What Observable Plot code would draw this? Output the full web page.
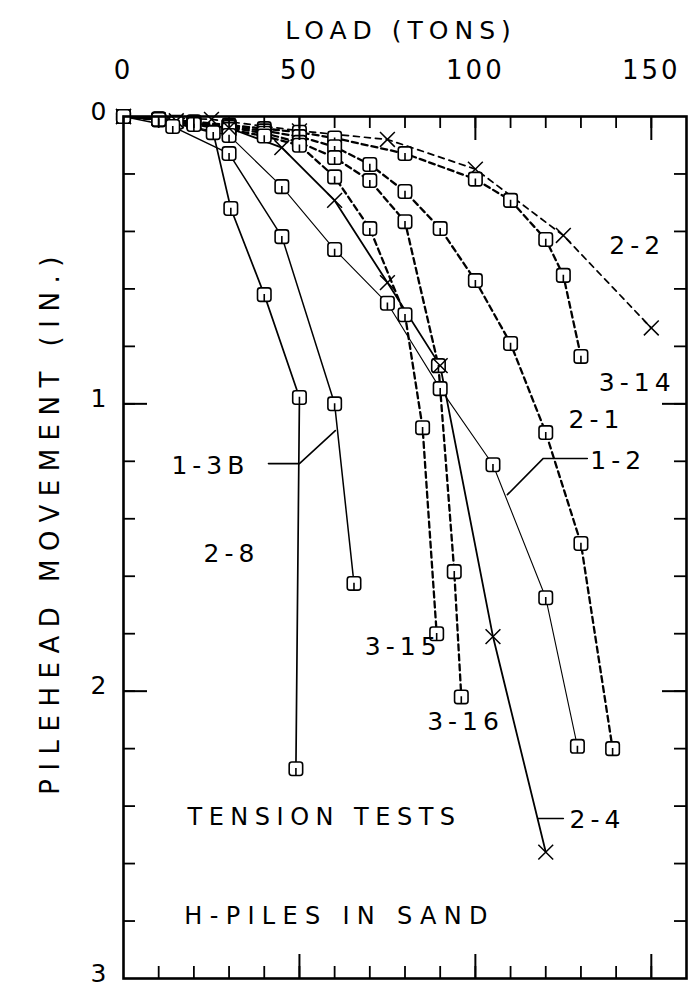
<!DOCTYPE html>
<html><head><meta charset="utf-8">
<script src="https://cdn.jsdelivr.net/npm/d3@7"></script>
<script src="https://cdn.jsdelivr.net/npm/@observablehq/plot@0.6"></script>
<style>
body{margin:0;background:#fff}
#chart svg text{letter-spacing:5px}
</style>
</head><body><div id="chart"></div>
<script>
// ---- data (load in tons, pilehead movement in inches) ----
const load_2_2 = [0, 25, 50, 75, 100, 125, 150];
const move_2_2 = [0, 0.01, 0.05, 0.08, 0.183, 0.414, 0.736];

const load_3_14 = [0, 10, 20, 30, 40, 50, 60, 80, 100, 110, 120, 125, 130];
const move_3_14 = [0, 0.008, 0.018, 0.03, 0.042, 0.055, 0.075, 0.129, 0.218, 0.292, 0.428, 0.553, 0.835];

const load_2_1 = [0, 10, 20, 30, 40, 50, 60, 70, 80, 90, 100, 110, 120, 130, 139];
const move_2_1 = [0, 0.01, 0.022, 0.035, 0.05, 0.07, 0.105, 0.167, 0.261, 0.39, 0.571, 0.79, 1.10, 1.486, 2.2];

const load_3_16 = [0, 10, 20, 30, 40, 50, 60, 70, 80, 89.5, 94, 96];
const move_3_16 = [0, 0.01, 0.024, 0.038, 0.058, 0.09, 0.143, 0.223, 0.366, 0.867, 1.584, 2.02];

const load_3_15 = [0, 10, 20, 30, 40, 50, 60, 70, 80, 85, 89];
const move_3_15 = [0, 0.012, 0.028, 0.045, 0.068, 0.1, 0.21, 0.39, 0.69, 1.083, 1.80];

const load_1_2 = [0, 15, 30, 45, 60, 75, 90, 105, 120, 129];
const move_1_2 = [0, 0.02, 0.066, 0.244, 0.463, 0.65, 0.947, 1.212, 1.675, 2.192];

const load_2_4 = [0, 15, 30, 45, 60, 75, 90, 105, 120];
const move_2_4 = [0, 0.015, 0.04, 0.108, 0.292, 0.578, 0.867, 1.81, 2.56];

const load_1_3B = [0, 14, 30, 45, 60, 65.5];
const move_1_3B = [0, 0.035, 0.129, 0.418, 1.0, 1.625];

const load_2_8 = [0, 10, 25.5, 30.5, 40, 50, 49];
const move_2_8 = [0, 0.01, 0.056, 0.32, 0.62, 0.978, 2.27];

// axis ticks
const xMajor = [0, 50, 100, 150];
const xMajorTicks = [50, 100, 150];
const xMinor = d3.range(10, 160, 10);
const yMajor = [0, 1, 2, 3];
const yMajorTicks = [1, 2];
const yMinor = d3.range(0.2, 3, 0.2);

// curve labels
const labelText = ["2-2", "3-14", "2-1", "1-2", "1-3B", "2-8", "3-15", "3-16", "2-4"];
const labelLoad = [146, 146, 134.4, 140.6, 24.7, 30.7, 79.5, 97.2, 134.7];
const labelMove = [0.452, 0.926, 1.058, 1.20, 1.218, 1.521, 1.845, 2.109, 2.45];

// leader lines for labels
const leader13BLoad = [41.2, 50, 60.2], leader13BMove = [1.208, 1.208, 1.093];
const leader12Load = [109.1, 119.3, 131.8], leader12Move = [1.316, 1.19, 1.19];
const leader24Load = [117.9, 125], leader24Move = [2.443, 2.443];

// notes
const noteText = ["TENSION TESTS", "H-PILES IN SAND"];
const noteLoad = [18.2, 17.3];
const noteMove = [2.44, 2.785];

// ---- build tables ----
const mk = (name, L, M) => L.map((l, i) => ({name, load: l, move: M[i]}));
const series = {
  "2-2": mk("2-2", load_2_2, move_2_2),
  "3-14": mk("3-14", load_3_14, move_3_14),
  "2-1": mk("2-1", load_2_1, move_2_1),
  "3-16": mk("3-16", load_3_16, move_3_16),
  "3-15": mk("3-15", load_3_15, move_3_15),
  "1-2": mk("1-2", load_1_2, move_1_2),
  "2-4": mk("2-4", load_2_4, move_2_4),
  "1-3B": mk("1-3B", load_1_3B, move_1_3B),
  "2-8": mk("2-8", load_2_8, move_2_8)
};
const lineStyle = {
  "2-2": {strokeWidth: 1.7, strokeDasharray: "6,5"},
  "3-14": {strokeWidth: 2.3, strokeDasharray: "6,4"},
  "2-1": {strokeWidth: 2.3, strokeDasharray: "6,4"},
  "3-16": {strokeWidth: 2.3, strokeDasharray: "6,4"},
  "3-15": {strokeWidth: 2.3, strokeDasharray: "6,4"},
  "1-2": {strokeWidth: 1.1},
  "2-4": {strokeWidth: 1.8},
  "1-3B": {strokeWidth: 1.5},
  "2-8": {strokeWidth: 1.7}
};
const crossSeries = ["2-2", "2-4"];

const sqSym = {
  draw(ctx, size) {
    const s = Math.sqrt(size) / 2, r = s * 0.4;
    ctx.moveTo(-s + r, -s);
    ctx.lineTo(s - r, -s);
    ctx.arcTo(s, -s, s, -s + r, r);
    ctx.lineTo(s, s - r);
    ctx.arcTo(s, s, s - r, s, r);
    ctx.lineTo(-s + r, s);
    ctx.arcTo(-s, s, -s, s - r, r);
    ctx.lineTo(-s, -s + r);
    ctx.arcTo(-s, -s, -s + r, -s, r);
    ctx.closePath();
    ctx.moveTo(0, -s * 0.1);
    ctx.lineTo(0, s);
  }
};

const W = 692, H = 988, mL = 123, mR = 6, mT = 116, mB = 10;
const pw = W - mL - mR, ph = H - mT - mB;
const font = "DejaVu Sans";

const marks = [];
for (const k of Object.keys(series)) {
  marks.push(Plot.line(series[k], {x: "load", y: "move", stroke: "black", ...lineStyle[k]}));
}
for (const k of Object.keys(series)) {
  if (crossSeries.includes(k)) {
    marks.push(Plot.dot(series[k], {x: "load", y: "move", symbol: "times", r: 6.8, stroke: "black", strokeWidth: 1.5}));
  } else {
    marks.push(Plot.dot(series[k], {x: "load", y: "move", symbol: sqSym, r: 7.6, stroke: "black", fill: "white", strokeWidth: 1.6}));
  }
}
// leaders
for (const [LL, LM] of [[leader13BLoad, leader13BMove], [leader12Load, leader12Move], [leader24Load, leader24Move]]) {
  marks.push(Plot.line(LL.map((l, i) => ({load: l, move: LM[i]})), {x: "load", y: "move", stroke: "black", strokeWidth: 1.6}));
}
// curve labels
marks.push(Plot.text(labelText.map((t, i) => ({t, load: labelLoad[i], move: labelMove[i]})),
  {x: "load", y: "move", text: "t", fontSize: 25, fill: "black"}));
marks.push(Plot.text(noteText.map((t, i) => ({t, load: noteLoad[i], move: noteMove[i]})),
  {x: "load", y: "move", text: "t", fontSize: 24, textAnchor: "start", fill: "black"}));

// ticks (inward on all four sides)
marks.push(Plot.ruleX(xMinor, {x: d => d, insetBottom: ph - 12, stroke: "black", strokeWidth: 1.8}));
marks.push(Plot.ruleX(xMinor, {x: d => d, insetTop: ph - 12, stroke: "black", strokeWidth: 1.8}));
marks.push(Plot.ruleX(xMajorTicks, {x: d => d, insetBottom: ph - 24, stroke: "black", strokeWidth: 2}));
marks.push(Plot.ruleX(xMajorTicks, {x: d => d, insetTop: ph - 24, stroke: "black", strokeWidth: 2}));
marks.push(Plot.ruleY(yMinor, {y: d => d, insetRight: pw - 12, stroke: "black", strokeWidth: 1.8}));
marks.push(Plot.ruleY(yMinor, {y: d => d, insetLeft: pw - 12, stroke: "black", strokeWidth: 1.8}));
marks.push(Plot.ruleY(yMajorTicks, {y: d => d, insetRight: pw - 24, stroke: "black", strokeWidth: 2}));
marks.push(Plot.ruleY(yMajorTicks, {y: d => d, insetLeft: pw - 24, stroke: "black", strokeWidth: 2}));
marks.push(Plot.frame({stroke: "black", strokeWidth: 2.6}));

// tick labels and titles
marks.push(Plot.text(xMajor, {x: d => d, text: d => String(d), frameAnchor: "top", lineAnchor: "middle", dy: -46, fontSize: 26, fill: "black"}));
marks.push(Plot.text(yMajor, {y: d => d, text: d => String(d), frameAnchor: "left", dx: -14, dy: -5, textAnchor: "end", lineAnchor: "middle", fontSize: 25, fill: "black"}));
marks.push(Plot.text(["LOAD (TONS)"], {frameAnchor: "top", lineAnchor: "middle", textAnchor: "middle", dx: -4, dy: -86, fontSize: 25, fill: "black"}));
marks.push(Plot.text(["PILEHEAD MOVEMENT (IN.)"], {frameAnchor: "left", lineAnchor: "middle", textAnchor: "middle", dx: -73, dy: -26, rotate: -90, fontSize: 26, fill: "black"}));

const chart = Plot.plot({
  width: W, height: H,
  marginLeft: mL, marginRight: mR, marginTop: mT, marginBottom: mB,
  x: {domain: [0, 160], axis: null},
  y: {domain: [0, 3], reverse: true, axis: null},
  style: {fontFamily: font, background: "white", color: "black"},
  marks
});
// letter spacing tweaks for the plotter-style lettering
const spacing = {"PILEHEAD MOVEMENT (IN.)": 8.5, "LOAD (TONS)": 6, "TENSION TESTS": 6.5, "H-PILES IN SAND": 7.3,
  "0": 3, "50": 3, "100": 3, "150": 3, "1": 3, "2": 3, "3": 3};
d3.select(chart).selectAll("text").each(function () {
  const t = this.textContent;
  if (spacing[t] != null) this.style.letterSpacing = spacing[t] + "px";
});
document.getElementById("chart").append(chart);
</script></body></html>
